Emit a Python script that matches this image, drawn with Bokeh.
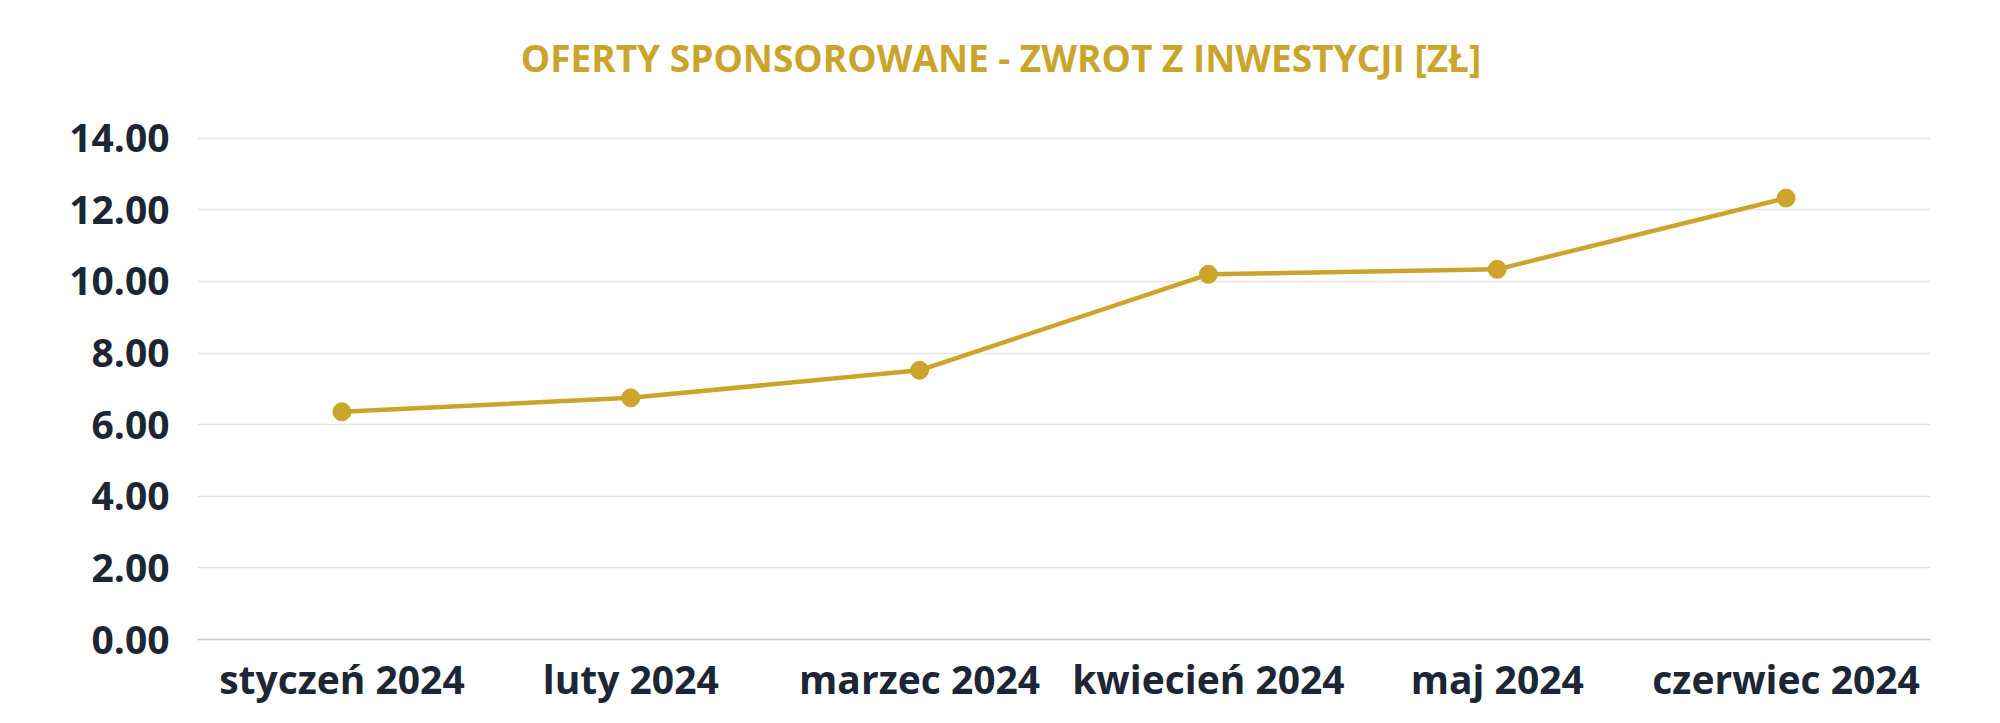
from bokeh.plotting import figure
from bokeh.models import FactorRange, Range1d, FixedTicker, NumeralTickFormatter, Label
from bokeh.embed import file_html
from bokeh.resources import INLINE

months = ["styczeń 2024", "luty 2024", "marzec 2024", "kwiecień 2024", "maj 2024", "czerwiec 2024"]
roi = [6.36, 6.75, 7.52, 10.20, 10.34, 12.33]
y_ticks = [0, 2, 4, 6, 8, 10, 12, 14]
title = "OFERTY SPONSOROWANE - ZWROT Z INWESTYCJI [ZŁ]"

gold = "#CBA42B"
ink = "#1C2634"

# the frame reaches up to the top so the title can live inside it; grid stops at 14
p = figure(width=1984, height=707, output_backend="svg", toolbar_location=None,
           x_range=FactorRange(*months, range_padding=0), y_range=Range1d(0, 17.29),
           min_border_left=197, min_border_right=54, min_border_top=20, min_border_bottom=67)

head = Label(x=3.0, y=16.26, x_offset=-63, text=title,
             text_align="center", text_baseline="middle", text_color=gold,
             text_font="Open Sans", text_font_style="bold", text_font_size="37px")
p.add_layout(head)

p.line(months, roi, line_color=gold, line_width=4.5)
p.scatter(months, roi, size=18, fill_color=gold, line_color=gold)

p.outline_line_color = None
p.xgrid.grid_line_color = None
p.ygrid.grid_line_color = "#E6E6E6"
p.ygrid.grid_line_width = 1.5

p.yaxis.ticker = FixedTicker(ticks=y_ticks)
p.yaxis.formatter = NumeralTickFormatter(format="0.00")
p.yaxis.axis_line_color = None
p.yaxis.major_label_standoff = 22

p.xaxis.axis_line_color = "#C8C8C8"
p.xaxis.axis_line_width = 1.5
p.xaxis.major_label_standoff = 6

for ax in (p.xaxis, p.yaxis):
    ax.major_tick_line_color = None
    ax.minor_tick_line_color = None
    ax.major_label_text_font = "Open Sans"
    ax.major_label_text_font_style = "bold"
    ax.major_label_text_font_size = "39px"
    ax.major_label_text_color = ink

open("out.html", "w").write(file_html(p, INLINE))
